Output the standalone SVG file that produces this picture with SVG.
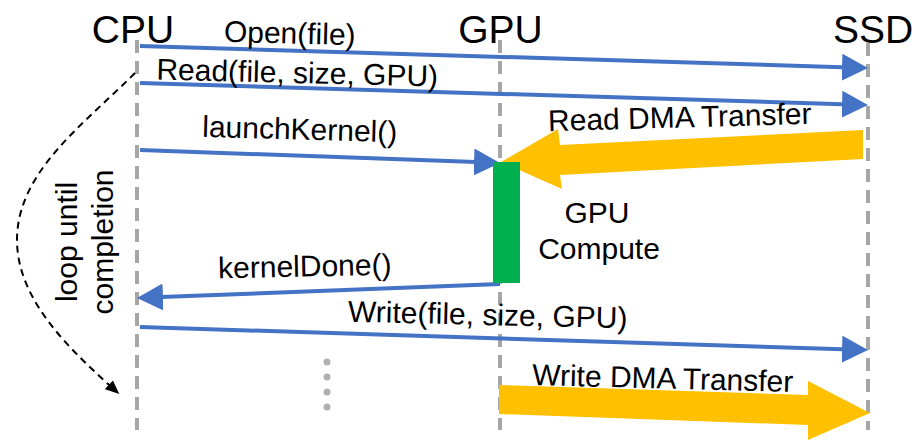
<svg xmlns="http://www.w3.org/2000/svg" width="918" height="441" viewBox="0 0 918 441">
<style>
text{font-family:"Liberation Sans",Arial,sans-serif;fill:#000}
.head{font-size:39px;text-anchor:middle}
.lbl{font-size:30px;text-anchor:middle}
.life{stroke:#a6a6a6;stroke-width:4;stroke-dasharray:13 8;fill:none}
.msg{stroke:#4472c4;stroke-width:4;fill:none;marker-end:url(#blueHead)}
.dma{fill:#ffc000}
.dot{fill:#b0b0b0}
</style>
<defs>
<marker id="blueHead" markerUnits="userSpaceOnUse" viewBox="0 0 26 27" markerWidth="26" markerHeight="27" refX="16" refY="13.5" orient="auto">
<path d="M0,0 L26,13.5 L0,27 z" fill="#4472c4"/>
</marker>
<marker id="blackHead" markerUnits="userSpaceOnUse" viewBox="0 0 14 12" markerWidth="14" markerHeight="12" refX="11" refY="6" orient="auto">
<path d="M0,0 L14,6 L0,12 z" fill="#000"/>
</marker>
</defs>

<g id="cpu">
<text class="head" x="133" y="43">CPU</text>
<line class="life" x1="137" y1="40" x2="137" y2="430"/>
</g>
<g id="gpu">
<text class="head" x="500.5" y="43">GPU</text>
<line class="life" x1="500" y1="40" x2="500" y2="430"/>
</g>
<g id="ssd">
<text class="head" x="873" y="43">SSD</text>
<line class="life" x1="868" y1="43" x2="868" y2="430"/>
</g>

<g id="connectors">
<line class="msg" x1="140" y1="46" x2="858" y2="67.7"/>
<text class="lbl" x="289.5" y="43.5" transform="rotate(1.5 289.5 43.5)">Open(file)</text>
<line class="msg" x1="140" y1="83" x2="858" y2="104.7"/>
<text class="lbl" x="297" y="83" transform="rotate(1.4 297 83)">Read(file, size, GPU)</text>
<line class="msg" x1="140" y1="150" x2="490" y2="162.6"/>
<text class="lbl" x="299.5" y="139.5" transform="rotate(1.6 299.5 139.5)">launchKernel()</text>

<polygon class="dma" points="863,130 560,145 558,129 501,162 562,189 560,175 863,159"/>
<text class="lbl" x="680" y="127.5" transform="rotate(-1.6 680 127.5)">Read DMA Transfer</text>

<line class="msg" x1="500" y1="284" x2="147" y2="297.6"/>
<text class="lbl" x="305" y="276.5" transform="rotate(-1.2 305 276.5)">kernelDone()</text>
<line class="msg" x1="140" y1="327" x2="858" y2="349.7"/>
<text class="lbl" x="487.5" y="325" transform="rotate(1.35 487.5 325)">Write(file, size, GPU)</text>

<polygon class="dma" points="499,385 808,395 808,381 870,413 808,440 808,425 499,414"/>
<text class="lbl" x="662.5" y="388.5" transform="rotate(1.5 662.5 388.5)">Write DMA Transfer</text>

<path d="M135,73 C83,125 17,172 17,240 C17,300 70,350 117,392" fill="none" stroke="#000" stroke-width="2" stroke-dasharray="7 5" marker-end="url(#blackHead)"/>
</g>

<g id="gpu-compute">
<rect x="493" y="162" width="27" height="121" fill="#00b050"/>
<text class="lbl" x="597" y="223">GPU</text>
<text class="lbl" x="599" y="259">Compute</text>
</g>

<g id="loop-label">
<text class="lbl" transform="translate(77 242) rotate(-90)">loop until</text>
<text class="lbl" transform="translate(113 242) rotate(-90)">completion</text>
</g>

<g id="ellipsis">
<circle class="dot" cx="327" cy="362" r="3.5"/>
<circle class="dot" cx="327" cy="377" r="3.5"/>
<circle class="dot" cx="327" cy="392" r="3.5"/>
<circle class="dot" cx="327" cy="407" r="3.5"/>
</g>
</svg>
